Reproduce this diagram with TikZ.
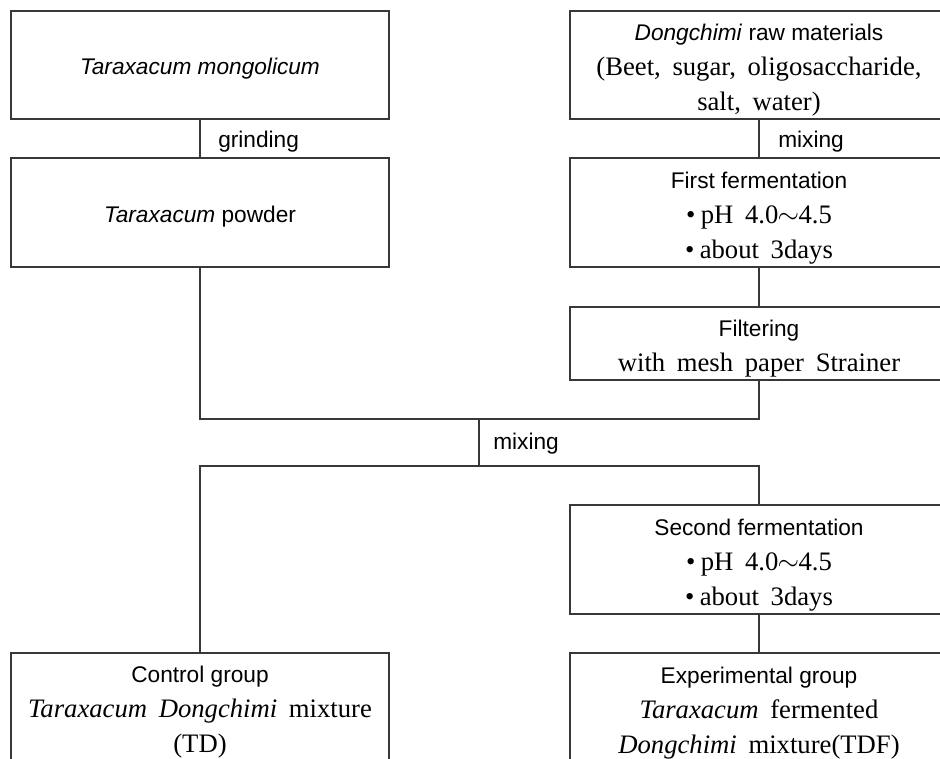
\documentclass[tikz,border=0pt]{standalone}
\usepackage{fontspec}
\setmainfont{Liberation Serif}
\setsansfont{Liberation Sans}
\newcommand\sfl{\fontsize{17}{26.25}\sffamily\selectfont}
\newcommand\rml{\fontsize{20}{26.25}\rmfamily\selectfont\spaceskip=8.75pt plus 2pt minus 1pt\relax}
\newcommand\bul{\textbullet\hspace{4pt}}
\newcommand\wv{\kern-0.5pt$\sim$\kern-0.5pt}
\begin{document}
\begin{tikzpicture}[x=0.75pt,y=-0.75pt,
  line/.style={draw=black!78, line width=0.9pt},
  box/.style={line, rectangle, minimum width=283.5pt, inner sep=0pt},
  txt/.style={inner sep=0pt, align=center, font=\sfl},
  lbl/.style={anchor=west, inner sep=0pt, font=\sfl}]
\clip (0,0) rectangle (940,758);
\fill[white] (0,0) rectangle (940,758);
% left column boxes
\node[box, minimum height=81pt] (a1) at (200,65) {};
\node[box, minimum height=81.75pt] (a2) at (200,212.5) {};
% right column boxes
\node[box, minimum height=81pt] (b1) at (759,65) {};
\node[box, minimum height=81.75pt] (b2) at (759,212.5) {};
\node[box, minimum height=54.75pt] (b3) at (759,343.5) {};
\node[box, minimum height=81.75pt] (b4) at (759,559.5) {};
% bottom boxes (cut by the lower edge)
\node[box, minimum height=112.5pt] (c1) at (200,728) {};
\node[box, minimum height=112.5pt] (d1) at (759,728) {};
% box texts
\node[txt] (a1t) at (200,69) {\textit{Taraxacum mongolicum}};
\node[txt] (a2t) at (200,216.5) {\textit{Taraxacum} powder};
\node[txt] (b1t) at (759,70) {{\sfl\textit{Dongchimi} raw materials}\\ {\rml(Beet, sugar, oligosaccharide,}\\ {\rml salt, water)}};
\node[txt] (b2t) at (759,218) {{\sfl First fermentation}\\ {\rml\bul pH 4.0\wv4.5}\\ {\rml\bul about 3days}};
\node[txt] (b3t) at (759,348.5) {{\sfl Filtering}\\ {\rml with mesh paper Strainer}};
\node[txt] (b4t) at (759,565) {{\sfl Second fermentation}\\ {\rml\bul pH 4.0\wv4.5}\\ {\rml\bul about 3days}};
\node[txt] (c1t) at (200,712) {{\sfl Control group}\\ {\rml\textit{Taraxacum Dongchimi} mixture}\\ {\rml (TD)}};
\node[txt] (d1t) at (759,713) {{\sfl Experimental group}\\ {\rml\textit{Taraxacum} fermented}\\ {\rml\textit{Dongchimi} mixture(TDF)}};
% junctions
\coordinate (j1) at (479,419);
\coordinate (j2) at (479,466);
% connectors
\draw[line] (a1.south) -- (a2.north);
\draw[line] (b1.south) -- (b2.north);
\draw[line] (b2.south) -- (b3.north);
\draw[line] (a2.south) |- (j1) -| (b3.south);
\draw[line] (j1) -- (j2);
\draw[line] (c1.north) |- (j2) -| (b4.north);
\draw[line] (b4.south) -- (d1.north);
% labels
\node[lbl] (g1) at (218,142) {grinding};
\node[lbl] (m1) at (778,142) {mixing};
\node[lbl] (m2) at (493,444) {mixing};
\end{tikzpicture}
\end{document}
